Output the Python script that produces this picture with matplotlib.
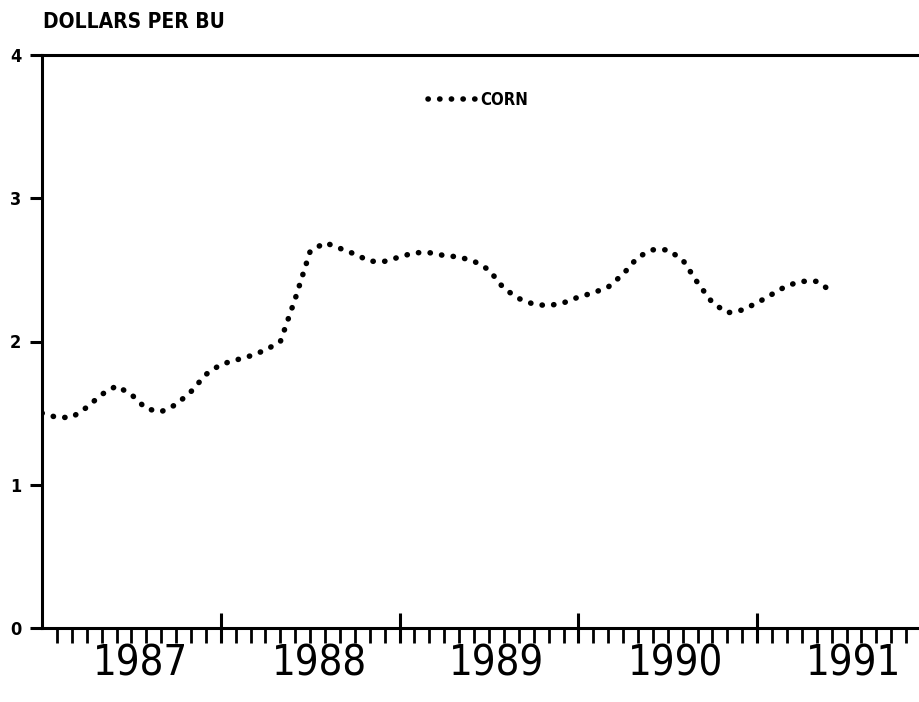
import matplotlib
matplotlib.use("Agg")
import matplotlib.pyplot as plt
from matplotlib.ticker import FixedLocator, NullFormatter

# Monthly average corn price, months counted from Jan 1987 (0 = Jan 1987)
months = list(range(0, 54))
corn = [1.50, 1.47, 1.47, 1.54, 1.63, 1.69, 1.63, 1.53, 1.51, 1.56,
        1.65, 1.77, 1.84, 1.87, 1.90, 1.94, 2.00, 2.30, 2.63, 2.69,
        2.65, 2.61, 2.56, 2.56, 2.59, 2.62, 2.62, 2.60, 2.59, 2.56,
        2.50, 2.37, 2.30, 2.26, 2.25, 2.27, 2.31, 2.34, 2.38, 2.47,
        2.59, 2.64, 2.64, 2.57, 2.41, 2.27, 2.20, 2.22, 2.27, 2.33,
        2.39, 2.42, 2.42, 2.35]
years = ["1987", "1988", "1989", "1990", "1991"]
year_label_pos = [6.6, 18.6, 30.5, 42.5, 54.5]
year_ticks = [12, 24, 36, 48]
y_ticks = [0, 1, 2, 3, 4]

FONT = ["Liberation Sans Narrow", "DejaVu Sans"]
STRETCH = "condensed"

fig = plt.figure(figsize=(9.2, 7.02), dpi=100)
ax = fig.add_axes([42 / 920, (702 - 628) / 702, (920 - 42) / 920, (628 - 55) / 702])

ax.plot(months, corn, color="black", lw=4.0, linestyle=(0, (0.05, 2.05)),
        dash_capstyle="round", label="CORN")

ax.set_xlim(0, (920 - 42) / 14.9)
ax.set_ylim(0, 4)

for s in ["left", "bottom", "top"]:
    ax.spines[s].set_linewidth(2.2)
ax.spines["right"].set_visible(False)

ax.yaxis.set_major_locator(FixedLocator(y_ticks))
ax.set_yticklabels([str(v) for v in y_ticks], fontfamily=FONT, fontweight="bold",
                   fontsize=13, fontstretch=STRETCH)
ax.tick_params(axis="y", direction="out", length=9, width=2.2, pad=6)

ax.xaxis.set_major_locator(FixedLocator(year_ticks))
ax.xaxis.set_major_formatter(NullFormatter())
ax.xaxis.set_minor_locator(FixedLocator([m for m in range(1, 59) if m not in year_ticks]))
ax.tick_params(axis="x", which="major", direction="inout", length=22, width=2.2)
ax.tick_params(axis="x", which="minor", direction="out", length=11, width=2.0)

for lbl, xp in zip(years, year_label_pos):
    ax.text(xp, -0.026, lbl, transform=ax.get_xaxis_transform(), ha="center", va="top",
            fontfamily=FONT, fontsize=30, fontstretch=STRETCH)

fig.text(43 / 920, 1 - 22 / 702, "DOLLARS PER BU", ha="left", va="center",
         fontfamily=FONT, fontweight="bold", fontsize=15, fontstretch=STRETCH)

leg = ax.legend(loc="center left", bbox_to_anchor=(428 / 920, 1 - 100 / 702),
                bbox_transform=fig.transFigure, frameon=False, handlelength=3.0,
                handletextpad=0.15, borderpad=0, borderaxespad=0,
                prop={"family": FONT, "weight": "bold", "size": 12, "stretch": STRETCH})

fig.savefig("out.png", dpi=100, facecolor="white")
